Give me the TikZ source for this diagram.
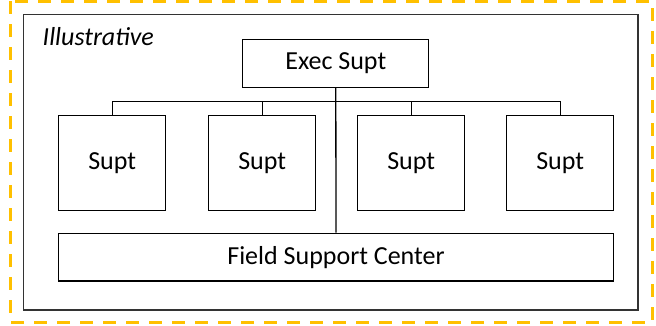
\documentclass[tikz,border=0pt]{standalone}
\usepackage{fontspec}
\setmainfont{Carlito}
\begin{document}
\begin{tikzpicture}[x=1pt,y=-1pt,
  box/.style={draw=black,line width=1.3pt,fill=white,inner sep=0pt,font=\fontsize{26}{30}\selectfont},
  conn/.style={draw=black,line width=1.3pt}]
\useasboundingbox (0,0) rectangle (656,326);
\draw[draw={rgb,255:red,255;green,192;blue,0},line width=3pt,dash pattern=on 12.5pt off 10.5pt] (10.7,1.3) rectangle (652.3,322.7);
\draw[draw=black!80,line width=1.3pt] (23.8,14.7) rectangle (638,310);
\node[anchor=base west,inner sep=0pt,font=\fontsize{26}{30}\selectfont\itshape] (ill) at (42.5,45.7) {Illustrative};
\node[box,minimum width=186pt,minimum height=48pt] (exec) at (335.8,63.5) {Exec Supt};
\node[box,minimum width=107pt,minimum height=94.6pt] (s1) at (112.2,163) {Supt};
\node[box,minimum width=107pt,minimum height=94.6pt] (s2) at (262.2,163) {Supt};
\node[box,minimum width=107pt,minimum height=94.6pt] (s3) at (411.2,163) {Supt};
\node[box,minimum width=107pt,minimum height=94.6pt] (s4) at (560.2,163) {Supt};
\node[box,minimum width=554.6pt,minimum height=47.7pt] (fsc) at (336,257.2) {Field Support Center};
\coordinate (bus) at (335.8,101.8);
\draw[conn] (exec.south) -- (fsc.north);
\draw[conn] (s1.north) |- (bus) -| (s4.north);
\draw[conn] (s2.north) -- (s2.north |- bus);
\draw[conn] (s3.north) -- (s3.north |- bus);
\end{tikzpicture}
\end{document}
